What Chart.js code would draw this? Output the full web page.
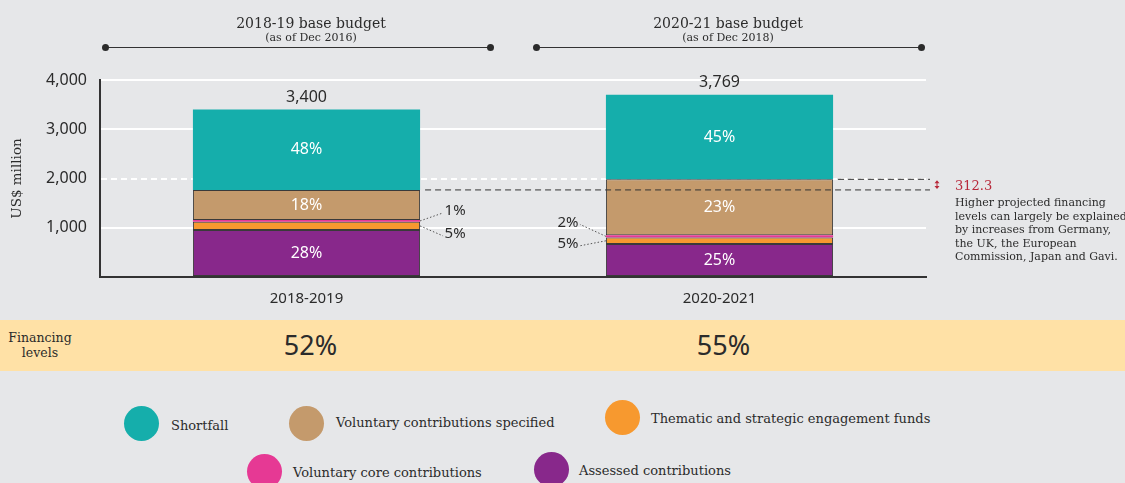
<!DOCTYPE html>
<html>
<head>
<meta charset="utf-8">
<script src="https://cdn.jsdelivr.net/npm/chart.js@4.4.0/dist/chart.umd.min.js"></script>
<style>
  body { margin: 0; background: #e6e7e9; }
  #wrap { position: relative; width: 1125px; height: 483px; overflow: hidden; background: #e6e7e9; font-family: 'DejaVu Serif', serif; color: #2b2b2b; }
  #c { position: absolute; left: 0; top: 0; }
  .head { position: absolute; top: 14px; width: 300px; margin-left: -150px; text-align: center; white-space: nowrap; }
  .head .t { font-size: 14px; line-height: 18px; }
  .head .s { font-size: 11px; line-height: 11px; }
  .bracket { position: absolute; top: 47px; height: 0; border-top: 1.5px solid #333; }
  .bracket::before, .bracket::after { content: ''; position: absolute; top: -4.5px; width: 7px; height: 7px; border-radius: 50%; background: #2b2b2b; }
  .bracket::before { left: -3.5px; }
  .bracket::after { right: -3.5px; }
  #band { position: absolute; left: 0; top: 320px; width: 1125px; height: 51px; background: #ffe1a6; }
  #band .lbl { position: absolute; left: 0; top: 10px; width: 80px; text-align: center; font-size: 12.5px; line-height: 15px; }
  #band .val { position: absolute; top: 8px; width: 100px; margin-left: -50px; text-align: center; font-family: 'Noto Sans', sans-serif; font-size: 27px; line-height: 34px; color: #2b2b2b; }
  #note { position: absolute; left: 955px; top: 196px; font-size: 11px; line-height: 13.5px; white-space: nowrap; }
  .dot { position: absolute; width: 35px; height: 35px; border-radius: 50%; }
  .ltxt { position: absolute; font-size: 13px; line-height: 18px; white-space: nowrap; }
</style>
</head>
<body>
<div id="wrap">
  <canvas id="c" width="1125" height="310"></canvas>
  <div class="head" style="left:311px"><div class="t">2018-19 base budget</div><div class="s">(as of Dec 2016)</div></div>
  <div class="bracket" style="left:105px; width:385px"></div>
  <div class="head" style="left:728px"><div class="t">2020-21 base budget</div><div class="s">(as of Dec 2018)</div></div>
  <div class="bracket" style="left:536px; width:385px"></div>
  <div id="note">Higher projected financing<br>levels can largely be explained<br>by increases from Germany,<br>the UK, the European<br>Commission, Japan and Gavi.</div>
  <div id="band"><div class="lbl">Financing<br>levels</div></div>
  <div id="legend"></div>
</div>
<script>
// Données (US$ million)
const categories = ['2018-2019', '2020-2021'];
const assessed = [952, 670];
const thematic = [170, 130];
const core = [34, 50];
const specified = [612, 1133];
const shortfall = [1632, 1720];

// Parts affichées
const assessedPct = ['28%', '25%'];
const thematicPct = ['5%', '5%'];
const corePct = ['1%', '2%'];
const specifiedPct = ['18%', '23%'];
const shortfallPct = ['48%', '45%'];

const totalLabels = ['3,400', '3,769'];
const financingLevels = ['52%', '55%'];
const gapLabel = '312.3';
const yTicks = [0, 1000, 2000, 3000, 4000];

const series = [
    { label: 'Assessed contributions', data: assessed, pct: assessedPct, color: '#88288b', border: 1, inside: true },
    { label: 'Thematic and strategic engagement funds', data: thematic, pct: thematicPct, color: '#f7992f', border: 1, inside: false },
    { label: 'Voluntary core contributions', data: core, pct: corePct, color: '#e63994', border: 0, inside: false },
    { label: 'Voluntary contributions specified', data: specified, pct: specifiedPct, color: '#c49a6c', border: 1, inside: true },
    { label: 'Shortfall', data: shortfall, pct: shortfallPct, color: '#15aeab', border: 0, inside: true }
];

// Placement des petites étiquettes (décalage du texte par rapport au bord de la barre / centre du segment)
const outsidePlacement = {
    1: [{ side: 1, dx: 35, dy: 8 }, { side: -1, dx: -38, dy: 3 }],
    2: [{ side: 1, dx: 35, dy: -10 }, { side: -1, dx: -38, dy: -14 }]
};

const legendLayout = [
    { label: 'Shortfall', dot: [141, 423], text: [171, 426] },
    { label: 'Voluntary contributions specified', dot: [306, 423], text: [336, 423] },
    { label: 'Thematic and strategic engagement funds', dot: [622, 417], text: [651, 419] },
    { label: 'Voluntary core contributions', dot: [264, 471], text: [293, 473] },
    { label: 'Assessed contributions', dot: [551, 469], text: [579, 471] }
];

function formatThousands(v) {
    return String(v).replace(/\B(?=(\d{3})+(?!\d))/g, ',');
}

const labelsPlugin = {
    id: 'labels',
    afterDatasetsDraw(chart) {
        const ctx = chart.ctx;
        const area = chart.chartArea;
        ctx.save();
        ctx.textAlign = 'center';
        ctx.textBaseline = 'middle';

        // Lignes pointillées du niveau de financement
        const levels = [];
        chart.getDatasetMeta(3).data.forEach(bar => {
            const p = bar.getProps(['x', 'y', 'width'], true);
            levels.push(p.y);
            ctx.strokeStyle = '#333';
            ctx.lineWidth = 1;
            ctx.setLineDash([6, 4]);
            ctx.beginPath();
            ctx.moveTo(p.x + p.width / 2 + 5, p.y);
            ctx.lineTo(area.right + 4, p.y);
            ctx.stroke();
        });
        ctx.setLineDash([]);

        // Flèche rouge de l'écart
        const ax = area.right + 11;
        const yTop = Math.min(levels[0], levels[1]);
        const yBot = Math.max(levels[0], levels[1]);
        ctx.strokeStyle = '#b8283a';
        ctx.fillStyle = '#b8283a';
        ctx.lineWidth = 1;
        ctx.beginPath();
        ctx.moveTo(ax, yTop + 2);
        ctx.lineTo(ax, yBot - 2);
        ctx.stroke();
        ctx.beginPath();
        ctx.moveTo(ax, yTop + 1); ctx.lineTo(ax - 2.5, yTop + 4); ctx.lineTo(ax + 2.5, yTop + 4); ctx.closePath();
        ctx.moveTo(ax, yBot - 1); ctx.lineTo(ax - 2.5, yBot - 4); ctx.lineTo(ax + 2.5, yBot - 4); ctx.closePath();
        ctx.fill();
        ctx.textAlign = 'left';
        ctx.font = '13px "DejaVu Serif", serif';
        ctx.fillText(gapLabel, area.right + 29, (yTop + yBot) / 2 + 2);
        ctx.textAlign = 'center';

        chart.data.datasets.forEach((ds, di) => {
            const meta = chart.getDatasetMeta(di);
            meta.data.forEach((bar, i) => {
                const p = bar.getProps(['x', 'y', 'base', 'width'], true);
                const cy = (p.y + p.base) / 2;
                if (ds.inside) {
                    ctx.fillStyle = '#ffffff';
                    ctx.font = '16px "Noto Sans", sans-serif';
                    ctx.fillText(ds.pct[i], p.x, cy);
                } else {
                    const pl = outsidePlacement[di][i];
                    const edge = p.x + pl.side * p.width / 2;
                    const tx = edge + pl.dx;
                    const ty = cy + pl.dy;
                    ctx.strokeStyle = '#555';
                    ctx.lineWidth = 1;
                    ctx.setLineDash([1.5, 2]);
                    ctx.beginPath();
                    ctx.moveTo(edge, cy);
                    ctx.lineTo(tx - pl.side * 12, ty + 2);
                    ctx.stroke();
                    ctx.setLineDash([]);
                    ctx.fillStyle = '#2b2b2b';
                    ctx.font = '15px "Noto Sans", sans-serif';
                    ctx.fillText(ds.pct[i], tx, ty);
                }
            });
        });

        // Totaux au-dessus des barres
        const topMeta = chart.getDatasetMeta(chart.data.datasets.length - 1);
        topMeta.data.forEach((bar, i) => {
            const p = bar.getProps(['x', 'y'], true);
            ctx.fillStyle = '#2b2b2b';
            ctx.font = '16px "Noto Sans", sans-serif';
            ctx.fillText(totalLabels[i], p.x, p.y - 12);
        });
        ctx.restore();
    }
};

const chart = new Chart(document.getElementById('c'), {
    type: 'bar',
    data: {
        labels: categories,
        datasets: series.map(s => ({
            label: s.label,
            data: s.data,
            pct: s.pct,
            inside: s.inside,
            backgroundColor: s.color,
            borderColor: '#3a3a3a',
            borderWidth: s.border,
            borderSkipped: false,
            categoryPercentage: 1,
            barPercentage: 0.55
        }))
    },
    options: {
        responsive: false,
        devicePixelRatio: 1,
        animation: false,
        layout: { padding: { top: 80, right: 199, left: 0, bottom: 0 } },
        plugins: {
            legend: { display: false },
            tooltip: { enabled: false }
        },
        scales: {
            x: {
                stacked: true,
                grid: { display: false },
                border: { color: '#333', width: 2 },
                ticks: { color: '#2b2b2b', font: { family: 'Noto Sans', size: 15 }, padding: 5 },
                afterFit: scale => { scale.height = 33; }
            },
            y: {
                stacked: true,
                min: 0,
                max: 4000,
                afterBuildTicks: scale => { scale.ticks = yTicks.map(v => ({ value: v })); },
                grid: {
                    drawTicks: false,
                    lineWidth: 2,
                    color: c => (c.tick && c.tick.value === 0) ? 'rgba(0,0,0,0)' : '#ffffff'
                },
                border: {
                    color: '#333',
                    width: 2,
                    dash: c => (c.tick && c.tick.value === 2000) ? [6, 4] : []
                },
                ticks: {
                    color: '#2b2b2b',
                    padding: 13,
                    font: { family: 'Noto Sans', size: 16 },
                    callback: v => v === 0 ? '' : formatThousands(v)
                },
                title: {
                    display: true,
                    text: 'US$ million',
                    color: '#2b2b2b',
                    font: { family: 'DejaVu Serif', size: 13.5 },
                    padding: { top: 9, bottom: 0 }
                },
                afterFit: scale => { scale.width = 100; }
            }
        }
    },
    plugins: [labelsPlugin]
});

// Niveaux de financement, alignés sur les barres
const band = document.getElementById('band');
financingLevels.forEach((txt, i) => {
    const el = document.createElement('div');
    el.className = 'val';
    el.style.left = (chart.scales.x.getPixelForValue(i) + 4) + 'px';
    el.textContent = txt;
    band.appendChild(el);
});

// Légende
const legend = document.getElementById('legend');
legendLayout.forEach(item => {
    const s = series.find(d => d.label === item.label);
    const dot = document.createElement('div');
    dot.className = 'dot';
    dot.style.left = (item.dot[0] - 17.5) + 'px';
    dot.style.top = (item.dot[1] - 17.5) + 'px';
    dot.style.background = s.color;
    legend.appendChild(dot);
    const t = document.createElement('div');
    t.className = 'ltxt';
    t.style.left = item.text[0] + 'px';
    t.style.top = (item.text[1] - 9) + 'px';
    t.textContent = s.label;
    legend.appendChild(t);
});
</script>
</body>
</html>
